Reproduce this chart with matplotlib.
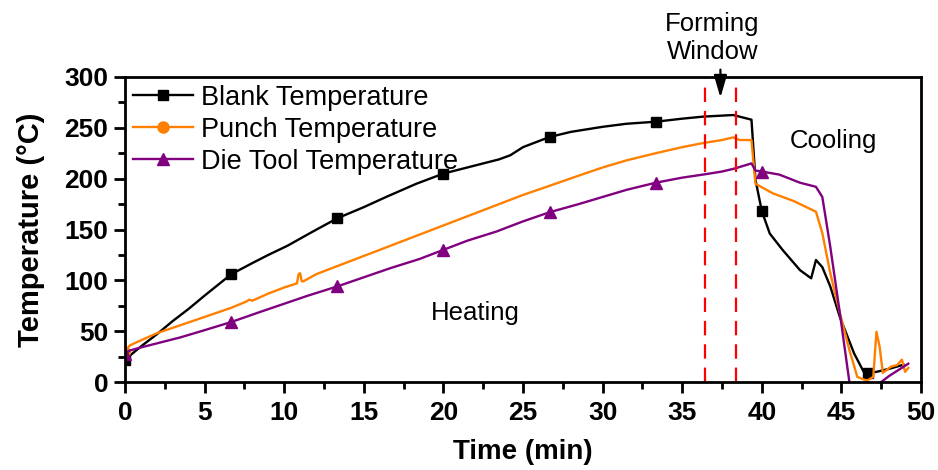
import numpy as np
import matplotlib
matplotlib.use("Agg")
import matplotlib.pyplot as plt
from matplotlib.lines import Line2D
from matplotlib.ticker import MultipleLocator

plt.rcParams['font.family'] = ['Liberation Sans', 'DejaVu Sans']

# blank temperature (black, squares)
blank_t = [0, 1, 2, 3, 4, 5, 6.67, 8, 9, 10.2, 11.8, 13.33, 15, 16.4, 18.3, 20,
           22, 23.5, 24.2, 25, 26.67, 28, 30, 31.5, 33.33, 35, 36.3, 37.5, 38.2, 38.6,
           39.35, 39.6, 40.0, 40.5, 41.3, 42.4, 43.1, 43.4, 43.8, 44.3, 44.9, 45.8,
           46.4, 46.67, 47.2, 48.0, 48.9]
blank_T = [22, 35, 47, 60, 72, 85, 106, 117, 125, 134, 148, 161, 172, 182, 195, 205,
           213, 219, 223, 231, 241, 246, 251, 254, 256, 259, 261, 262, 262.6, 261,
           258, 199, 168, 146, 130, 110, 102, 120, 113, 94, 64, 28,
           10, 9, 10, 13, 17]

# punch temperature (orange, circles)
punch_t = [0, 0.3, 1, 2, 3.5, 5, 6.67, 7.6, 7.8, 8.0, 9, 10, 10.8, 10.9, 11.0, 11.1,
           11.2, 12, 13.33, 15, 16.67, 18.5, 20, 22, 23.5, 25, 26.67, 28.5, 30, 31.5,
           33.33, 35, 36.3, 37.5, 38.2, 38.6, 39.35, 39.6, 40.7, 42, 43.4, 43.8, 44.3,
           44.9, 45.5, 46.0, 46.6, 47.0, 47.2, 47.4, 47.6, 48.1, 48.5, 48.8, 49.0, 49.2]
punch_T = [30, 36, 41, 48, 56, 64, 73, 79, 81, 80, 87, 93, 97, 106, 107, 99,
           99, 106, 114, 124, 134, 145, 154, 166, 175, 184, 193, 203, 211, 218,
           225, 231, 235, 238, 240.6, 238, 238, 195, 185.5, 178, 167.5, 146.5, 107,
           68, 31.5, 5, 1.3, 5, 49.5, 34.7, 9, 15, 16.7, 22, 10, 13.8]

# die tool temperature (purple, triangles)
die_t = [0, 0.3, 1, 2, 3.5, 5, 6.67, 8.5, 10, 11.5, 13.33, 15, 16.67, 18.5, 20, 21.5,
         23.33, 25, 26.67, 28.5, 30, 31.5, 33.33, 35, 36.3, 37.5, 38.3, 39.35, 39.6,
         40.0, 41.1, 42.4, 43.4, 43.8, 44.3, 44.9, 45.5, 46.0, 46.67, 47.2, 47.5,
         48.0, 48.5, 49.2]
die_T = [28, 31, 34, 38, 44, 51, 59, 69, 77, 85, 94, 103, 112, 121, 130, 139,
         148, 158, 167, 175, 182, 189, 196, 201, 204, 207, 210, 215, 208,
         207, 204, 196, 192, 182, 133, 68, 0, -20, -25, -15, 0,
         6, 11, 18]

marker_times = [0, 6.67, 13.33, 20, 26.67, 33.33, 40.0, 46.67]
window = [36.4, 38.4]

BLACK = '#000000'
ORANGE = '#FF8000'
PURPLE = '#800080'


def mark_idx(ts, keep):
    return [i for i, t in enumerate(ts) if t in keep]


fig = plt.figure(figsize=(9.38, 4.7), dpi=100)
ax = fig.add_axes([0.1333, 0.1872, 0.8486, 0.649])

ax.plot(blank_t, blank_T, color=BLACK, lw=1.7, marker='s', ms=7,
        markevery=mark_idx(blank_t, marker_times))
ax.plot(punch_t, punch_T, color=ORANGE, lw=1.7, marker='o', ms=7,
        markevery=[0])
ax.plot(die_t, die_T, color=PURPLE, lw=1.7, marker='^', ms=8,
        markevery=mark_idx(die_t, marker_times))

for xv in window:
    ax.axvline(xv, color='#FF0000', lw=1.6, ls=(0, (6.5, 4)))

ax.annotate('', xy=(37.4, 277), xytext=(37.4, 310), annotation_clip=False,
            arrowprops=dict(arrowstyle='-|>,head_width=0.22,head_length=0.75',
                            color='black', lw=1.6, mutation_scale=18))
ax.text(36.9, 338, 'Forming\nWindow', ha='center', va='center', fontsize=18.5,
        linespacing=1.2, clip_on=False)
ax.text(22, 68, 'Heating', ha='center', va='center', fontsize=18.5)
ax.text(44.5, 237, 'Cooling', ha='center', va='center', fontsize=18.5)

ax.set_xlim(0, 50)
ax.set_ylim(0, 300)
ax.xaxis.set_major_locator(MultipleLocator(5))
ax.xaxis.set_minor_locator(MultipleLocator(2.5))
ax.yaxis.set_major_locator(MultipleLocator(50))
ax.yaxis.set_minor_locator(MultipleLocator(25))
ax.tick_params(which='major', direction='out', length=8, width=2, labelsize=19, pad=4)
ax.tick_params(axis='x', which='major', pad=6)
ax.tick_params(which='minor', direction='out', length=5, width=2)
for lab in ax.get_xticklabels() + ax.get_yticklabels():
    lab.set_fontweight('bold')
for sp in ax.spines.values():
    sp.set_linewidth(2)

ax.set_xlabel('Time (min)', fontsize=20, fontweight='bold', labelpad=10)
ax.set_ylabel('Temperature (°C)', fontsize=21, fontweight='bold', labelpad=14)

handles = [
    Line2D([], [], color=BLACK, lw=1.7, marker='s', ms=7),
    Line2D([], [], color=ORANGE, lw=1.7, marker='o', ms=8),
    Line2D([], [], color=PURPLE, lw=1.7, marker='^', ms=8),
]
ax.legend(handles, ['Blank Temperature', 'Punch Temperature', 'Die Tool Temperature'],
          loc='upper left', bbox_to_anchor=(0.01, 0.975), frameon=False,
          fontsize=19.5, handlelength=2.2, handletextpad=0.3, labelspacing=0.22,
          borderpad=0, borderaxespad=0)

fig.savefig('out.png', dpi=100)
